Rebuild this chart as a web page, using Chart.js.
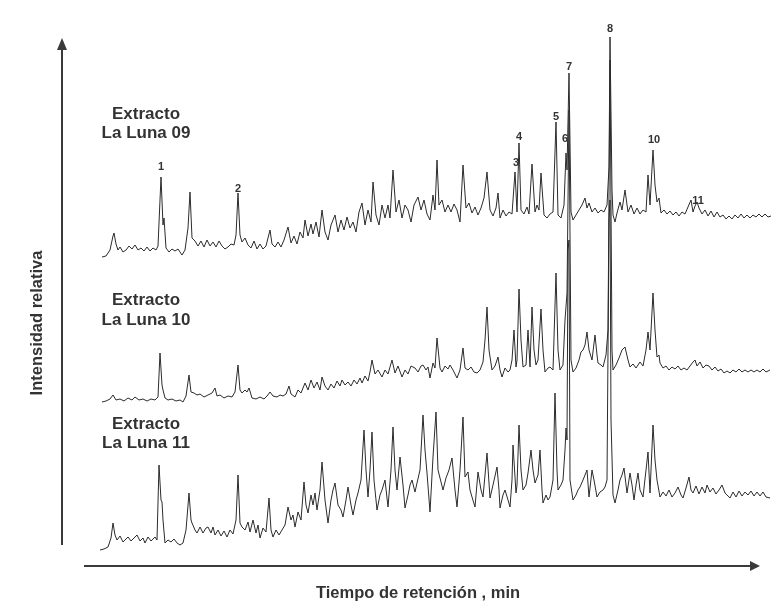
<!DOCTYPE html>
<html lang="es">
<head>
  <meta charset="UTF-8">
  <title>Cromatogramas - Extractos La Luna</title>
  <script src="https://cdn.jsdelivr.net/npm/chart.js"></script>
  <style>
    body { margin: 0; background: #fff; }
    #wrap { width: 772px; height: 608px; }
  </style>
</head>
<body>
  <div id="wrap"><canvas id="chrom" width="772" height="608"></canvas></div>

  <script>
    // tiempo de retención (min) e intensidad relativa
    const t09 = [0.2,0.6,1.0,1.3,1.4,1.6,1.8,2.0,2.3,2.6,2.9,3.2,3.5,3.8,4.1,4.4,4.7,5.0,5.3,5.6,5.8,6.1,6.3,6.4,6.6,6.9,7.2,7.5,7.8,8.2,8.5,8.8,9.0,9.2,9.5,9.8,10.1,10.4,10.7,11.0,11.3,11.6,11.9,12.2,12.5,12.8,13.1,13.4,13.6,13.8,14.0,14.2,14.5,14.8,15.1,15.4,15.7,16.0,16.3,16.6,17.0,17.2,17.5,17.8,18.1,18.4,18.8,19.1,19.4,19.7,20.0,20.3,20.5,20.8,21.1,21.3,21.6,21.9,22.2,22.5,22.8,23.1,23.5,23.8,24.1,24.4,24.7,25.0,25.3,25.6,25.9,26.2,26.5,26.8,27.1,27.3,27.6,27.9,28.2,28.5,28.8,29.0,29.3,29.6,29.9,30.2,30.5,30.8,31.1,31.4,31.8,32.1,32.4,32.7,33.0,33.3,33.5,33.7,33.9,34.2,34.5,34.8,35.1,35.4,35.7,36.0,36.3,36.6,36.9,37.2,37.5,37.8,38.1,38.4,38.7,39.0,39.3,39.6,39.8,40.0,40.3,40.6,40.9,41.2,41.5,41.7,41.9,42.1,42.4,42.7,42.9,43.2,43.5,43.7,43.9,44.1,44.4,44.7,45.0,45.3,45.6,45.8,46.1,46.4,46.6,46.7,46.9,47.1,47.3,47.6,47.9,48.2,48.5,48.7,48.9,49.2,49.5,49.8,50.1,50.4,50.7,50.9,51.0,51.2,51.3,51.5,51.7,52.0,52.2,52.5,52.8,53.1,53.4,53.7,54.0,54.3,54.6,54.8,55.0,55.3,55.5,55.7,55.9,56.1,56.4,56.7,57.0,57.3,57.6,57.9,58.2,58.5,58.8,59.1,59.3,59.5,59.7,59.9,60.2,60.5,60.8,61.1,61.4,61.7,62.0,62.3,62.6,62.9,63.2,63.5,63.8,64.1,64.4,64.7,65.0,65.3,65.6,65.9,66.2,66.5,66.8,67.1];
    const i09 = [0,1,7,21,24,13,7,10,5,7,11,8,12,7,9,6,10,6,9,7,11,80,32,39,9,5,8,6,8,2,7,29,65,19,16,11,16,10,17,11,15,10,16,11,8,10,13,12,22,64,22,15,19,12,9,16,8,13,8,11,27,13,10,15,10,17,30,14,21,13,25,19,37,21,33,23,35,20,47,25,17,32,42,25,37,27,40,29,35,25,45,54,32,47,35,75,42,32,52,39,52,39,87,45,57,39,52,47,35,52,60,47,57,43,37,62,47,97,52,57,45,52,45,53,47,35,92,49,54,44,50,42,49,59,85,47,41,49,64,39,47,41,45,43,85,45,114,47,43,50,43,93,45,52,47,84,42,39,43,45,135,42,39,52,104,87,184,45,37,42,47,52,59,49,54,45,49,44,47,45,52,90,220,67,42,35,44,55,47,67,45,52,43,49,43,47,45,82,52,107,72,55,59,44,47,43,46,42,45,41,45,43,50,57,45,51,55,49,43,47,41,46,40,45,40,42,38,41,38,42,39,43,39,42,39,42,40,43,40,43,40,41];

    const t10 = [0.2,0.6,1.0,1.3,1.6,2.0,2.4,2.8,3.2,3.5,3.9,4.3,4.7,5.1,5.5,5.8,6.0,6.2,6.3,6.5,6.8,7.2,7.6,8.0,8.3,8.6,8.9,9.1,9.4,9.7,10.0,10.4,10.8,11.2,11.5,11.7,12.0,12.4,12.8,13.2,13.5,13.8,14.0,14.2,14.5,14.7,14.9,15.2,15.6,16.0,16.4,16.7,17.0,17.3,17.7,18.0,18.3,18.6,18.9,19.1,19.5,19.8,20.1,20.5,20.8,21.1,21.4,21.7,22.0,22.2,22.5,22.8,23.1,23.4,23.7,24.0,24.2,24.5,24.8,25.1,25.4,25.7,26.0,26.2,26.5,26.8,27.0,27.2,27.5,27.8,28.2,28.5,28.8,29.2,29.5,29.8,30.2,30.5,30.8,31.1,31.5,31.8,32.1,32.3,32.6,32.8,33.0,33.3,33.5,33.7,34.0,34.2,34.5,34.8,35.0,35.3,35.7,36.0,36.3,36.5,36.8,37.1,37.4,37.7,38.0,38.3,38.5,38.7,38.9,39.2,39.5,39.8,40.0,40.2,40.5,40.8,41.0,41.2,41.4,41.6,41.7,41.9,42.1,42.3,42.6,42.8,43.0,43.2,43.4,43.6,43.8,44.1,44.3,44.5,44.8,45.0,45.3,45.6,45.8,46.0,46.3,46.5,46.7,46.9,47.1,47.3,47.6,47.9,48.1,48.3,48.5,48.7,48.9,49.2,49.5,49.7,49.8,50.1,50.3,50.6,50.8,51.0,51.2,51.3,51.6,51.9,52.2,52.5,52.8,53.0,53.3,53.6,54.0,54.3,54.6,54.8,55.0,55.3,55.5,55.7,55.9,56.0,56.3,56.6,56.9,57.2,57.5,57.8,58.1,58.4,58.7,59.0,59.3,59.5,59.7,60.0,60.3,60.6,60.9,61.2,61.5,61.8,62.1,62.4,62.7,63.0,63.3,63.6,63.9,64.2,64.5,64.8,65.1,65.4,65.7,66.0,66.3,66.6,67.0];
    const i10 = [0,1,3,7,2,3,1,4,2,5,2,3,1,3,2,5,49,17,12,4,2,3,1,2,0,6,27,10,9,7,8,5,7,9,14,6,7,4,6,5,10,37,12,9,12,10,14,4,3,5,3,6,10,6,5,7,6,8,16,8,5,12,9,19,12,22,14,20,12,25,16,12,18,14,21,16,22,17,20,16,22,18,24,19,26,21,30,42,28,32,25,32,28,42,29,36,25,32,28,36,34,30,36,37,32,35,24,39,34,64,34,30,36,33,37,32,24,32,54,34,32,35,30,29,32,40,62,95,52,32,36,45,32,25,34,30,32,42,72,35,42,113,62,35,37,72,35,95,52,37,42,93,52,30,34,35,32,129,52,32,37,82,109,292,42,30,34,42,50,52,57,70,52,42,67,47,39,37,35,47,72,342,52,32,37,44,52,55,42,35,38,34,40,36,52,70,52,109,72,45,47,39,34,36,32,35,33,36,32,34,32,36,40,42,36,40,34,37,36,32,35,31,33,29,31,29,32,30,33,30,32,30,32,30,32,30,33,30,32,29,30];

    const t11 = [0.0,0.4,0.8,1.1,1.3,1.5,1.7,2.0,2.3,2.5,2.8,3.1,3.4,3.7,4.0,4.3,4.5,4.8,5.1,5.5,5.7,5.9,6.1,6.2,6.3,6.5,6.8,7.1,7.4,7.7,8.0,8.3,8.6,8.9,9.1,9.2,9.5,9.7,10.0,10.3,10.6,10.8,11.1,11.3,11.5,11.8,12.1,12.4,12.7,13.0,13.3,13.6,13.8,14.0,14.2,14.5,14.8,15.0,15.3,15.6,15.8,16.0,16.3,16.6,16.9,17.1,17.3,17.6,17.9,18.2,18.5,18.8,19.1,19.3,19.5,19.8,20.1,20.4,20.6,20.8,21.1,21.3,21.5,21.7,22.0,22.2,22.5,22.8,23.1,23.3,23.5,23.8,24.1,24.3,24.6,24.8,25.1,25.3,25.6,25.8,26.1,26.4,26.6,26.8,27.0,27.2,27.4,27.7,28.0,28.2,28.5,28.8,29.1,29.3,29.5,29.7,30.0,30.3,30.5,30.8,31.0,31.2,31.5,31.7,32.0,32.3,32.5,32.7,33.0,33.3,33.6,33.8,34.1,34.3,34.6,34.9,35.2,35.5,35.7,36.0,36.3,36.5,36.8,37.0,37.2,37.5,37.8,38.1,38.3,38.5,38.7,39.0,39.3,39.7,39.9,40.0,40.3,40.5,40.8,41.0,41.2,41.3,41.6,41.7,41.9,42.1,42.3,42.6,42.8,43.1,43.3,43.5,43.8,44.0,44.2,44.3,44.6,44.8,45.0,45.3,45.5,45.7,45.8,46.1,46.3,46.5,46.6,46.7,46.8,46.9,47.0,47.3,47.6,47.8,48.0,48.3,48.5,48.7,48.9,49.2,49.4,49.7,50.0,50.3,50.5,50.7,50.9,51.0,51.1,51.3,51.5,51.8,52.0,52.2,52.4,52.7,53.0,53.2,53.4,53.6,53.8,54.0,54.3,54.6,54.8,55.0,55.1,55.3,55.5,55.7,56.0,56.3,56.6,56.9,57.2,57.5,57.8,58.1,58.3,58.6,58.9,59.1,59.3,59.6,59.9,60.2,60.5,60.7,61.0,61.3,61.6,61.9,62.2,62.5,62.8,63.0,63.3,63.6,63.9,64.2,64.5,64.8,65.1,65.4,65.7,66.0,66.3,66.6,67.0];
    const i11 = [2,3,5,14,29,17,12,16,10,12,15,11,14,17,11,14,9,15,11,15,12,87,52,50,32,9,12,10,13,9,7,9,22,59,32,29,22,19,25,19,24,25,19,25,17,22,16,21,15,22,18,32,77,29,25,22,30,20,32,19,27,14,24,20,54,22,15,22,17,22,27,45,32,37,25,40,32,70,47,39,57,47,59,42,62,90,52,29,52,62,69,47,42,35,52,65,47,37,52,59,72,122,82,55,82,120,72,42,57,62,72,45,82,125,82,62,95,67,44,57,67,72,60,69,82,137,102,79,40,95,140,82,70,62,74,82,94,62,45,82,135,75,80,62,55,45,80,62,55,77,99,54,67,85,62,44,57,62,52,45,72,107,59,67,127,82,62,67,79,102,82,69,77,102,62,49,57,52,55,72,159,82,62,67,72,102,124,112,302,312,72,52,57,62,65,72,77,82,55,82,72,55,60,62,65,72,332,352,132,57,49,62,72,77,84,59,79,67,52,67,79,62,55,82,100,59,82,127,92,72,55,60,56,62,55,59,65,57,54,64,75,62,59,66,58,65,59,67,60,64,58,62,67,59,56,54,60,55,61,56,60,57,61,56,60,56,60,55,54];

    const traceNames = [["Extracto", "La Luna 09"], ["Extracto", "La Luna 10"], ["Extracto", "La Luna 11"]];

    // números de pico sobre el cromatograma superior
    const peakNames = ["1", "2", "3", "4", "5", "6", "7", "8", "10", "11"];
    const peakTimes = [6.1, 13.8, 41.6, 41.9, 45.6, 46.5, 46.9, 51.0, 55.4, 59.8];
    const peakLevels = [90, 68, 94, 120, 140, 118, 190, 228, 117, 56];

    // desplazamiento vertical de cada cromatograma
    const offsets = [303, 158, 8];
    const ink = "#2b2b2b";
    const textInk = "#333333";

    function series(times, vals, off) {
      return times.map((t, k) => ({ x: t, y: vals[k] + off }));
    }

    const decor = {
      id: "decor",
      afterDraw(chart) {
        const ctx = chart.ctx;
        const xs = chart.scales.x, ys = chart.scales.y;
        ctx.save();

        // ejes con flechas
        ctx.strokeStyle = "#3a3a3a";
        ctx.fillStyle = "#3a3a3a";
        ctx.lineWidth = 2;
        ctx.beginPath();
        ctx.moveTo(62, 545); ctx.lineTo(62, 48);
        ctx.moveTo(84, 566); ctx.lineTo(752, 566);
        ctx.stroke();
        ctx.beginPath();
        ctx.moveTo(62, 38); ctx.lineTo(57, 50); ctx.lineTo(67, 50); ctx.closePath();
        ctx.fill();
        ctx.beginPath();
        ctx.moveTo(760, 566); ctx.lineTo(750, 561); ctx.lineTo(750, 571); ctx.closePath();
        ctx.fill();

        // títulos de ejes
        ctx.fillStyle = textInk;
        ctx.textAlign = "center";
        ctx.textBaseline = "middle";
        ctx.font = "bold 16.5px 'Liberation Sans', Arial, sans-serif";
        ctx.fillText("Tiempo de retención , min", 418, 593);
        ctx.save();
        ctx.translate(37, 323);
        ctx.rotate(-Math.PI / 2);
        ctx.fillText("Intensidad relativa", 0, 0);
        ctx.restore();

        // nombres de extractos
        ctx.font = "bold 17px 'Liberation Sans', Arial, sans-serif";
        const nameY = [[114, 133], [300, 320], [424, 443]];
        traceNames.forEach((lines, k) => {
          ctx.fillText(lines[0], 146, nameY[k][0]);
          ctx.fillText(lines[1], 146, nameY[k][1]);
        });

        // números de pico
        ctx.font = "bold 11px 'Liberation Sans', Arial, sans-serif";
        peakNames.forEach((p, k) => {
          ctx.fillText(p, xs.getPixelForValue(peakTimes[k]), ys.getPixelForValue(peakLevels[k] + offsets[0]));
        });
        ctx.restore();
      }
    };

    new Chart(document.getElementById("chrom"), {
      type: "line",
      data: {
        datasets: [
          { label: "La Luna 09", data: series(t09, i09, offsets[0]) },
          { label: "La Luna 10", data: series(t10, i10, offsets[1]) },
          { label: "La Luna 11", data: series(t11, i11, offsets[2]) }
        ]
      },
      options: {
        responsive: false,
        animation: false,
        layout: { padding: { left: 100, right: 0, top: 30, bottom: 48 } },
        elements: {
          point: { radius: 0 },
          line: { borderWidth: 1, borderColor: ink, tension: 0 }
        },
        datasets: { line: { borderColor: ink, borderWidth: 1, pointRadius: 0 } },
        plugins: { legend: { display: false }, tooltip: { enabled: false } },
        scales: {
          x: { type: "linear", min: 0, max: 67.2, display: false },
          y: { min: 0, max: 530, display: false }
        }
      },
      plugins: [decor]
    });
  </script>
</body>
</html>
